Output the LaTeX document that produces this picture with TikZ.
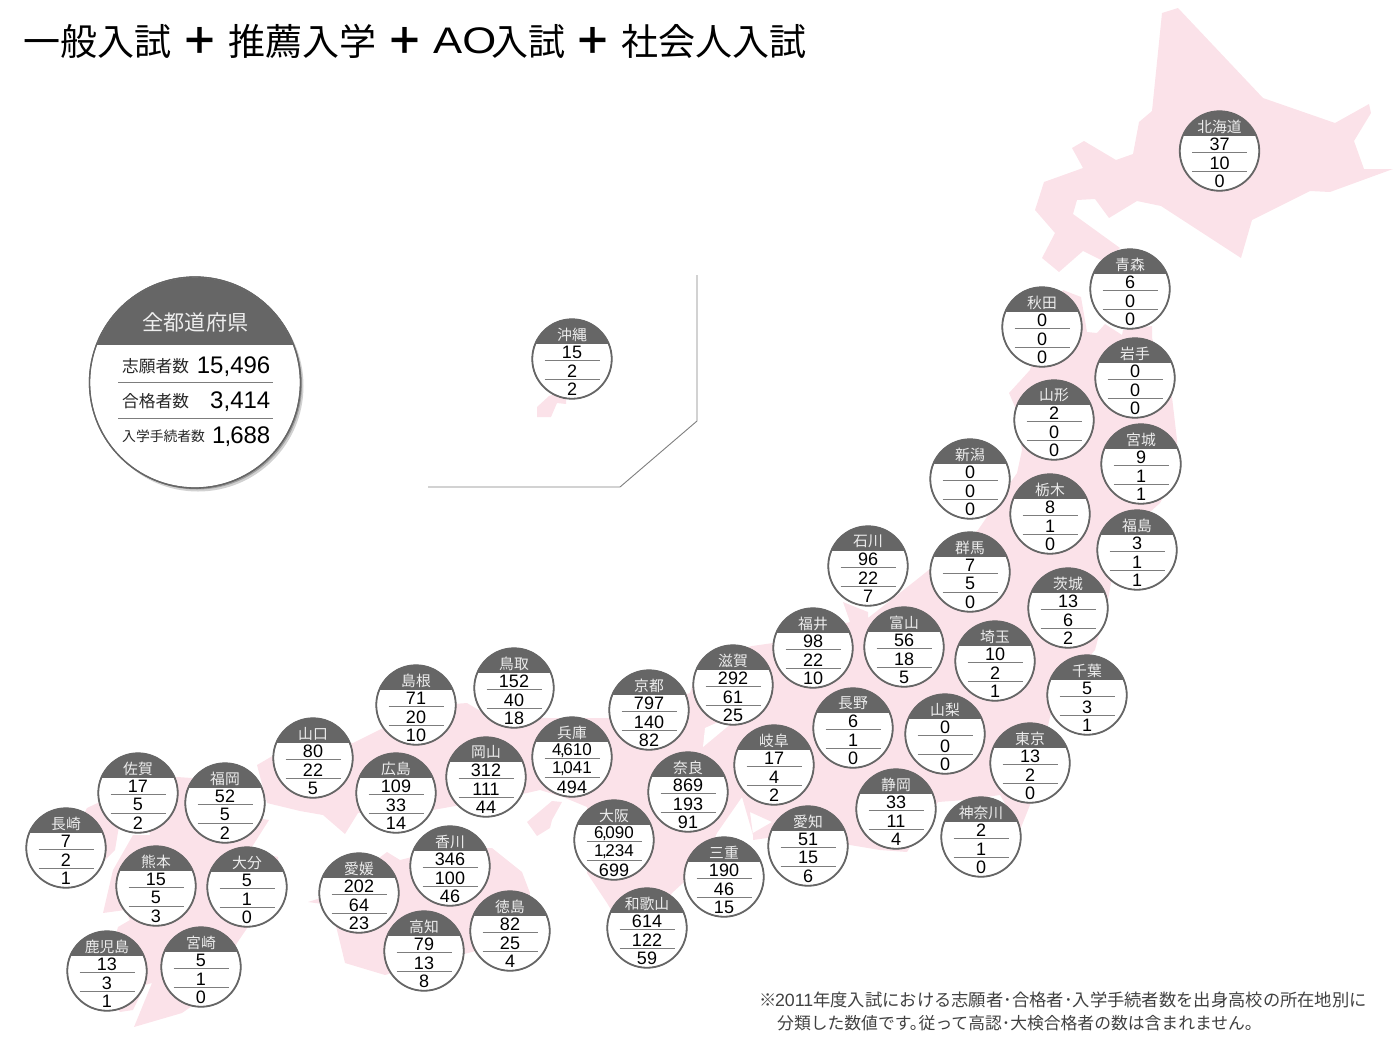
\documentclass[tikz,border=0pt]{standalone}
\usepackage{fontspec}
\setmainfont{Liberation Sans}
\newfontfamily\jp{Noto Sans CJK JP}
\definecolor{mapink}{HTML}{FBE2E9}
\definecolor{band}{HTML}{666666}
\newcommand{\smnum}[2]{{\fontsize{17}{17}\selectfont #1\kern-1.5pt,\kern-1.5pt #2}}
\tikzset{
  x=1pt,y=-1pt,
  land/.style={fill=mapink,draw=none},
  disc/.style={draw=band,line width=1.3pt,fill=white,circle,minimum size=79pt,inner sep=0pt},
  rowrule/.style={draw=band!85,line width=0.8pt},
  plabel/.style={font=\jp\fontsize{14.8}{14.8}\selectfont,text=white!93!black,inner sep=0pt},
  pnum/.style={font=\fontsize{18}{18}\selectfont,text=black,inner sep=0pt},
  ttl/.style={anchor=west,inner sep=0pt,font=\jp\fontsize{37}{37}\selectfont},
  ttlplus/.style={inner sep=0pt,font=\jp\bfseries\fontsize{37}{37}\selectfont},
  keytext/.style={anchor=west,text=black!85,inner sep=0pt},
  valtext/.style={anchor=east,font=\fontsize{24}{24}\selectfont,inner sep=0pt},
  notetext/.style={anchor=west,inner sep=0pt,text=black!75},
}
% \pref{id}{cx}{cy}{label}{a}{b}{c}
\newcommand{\pref}[7]{%
  \node[disc] (#1) at (#2,#3) {};
  \begin{scope}
    \clip (#2,#3) circle[radius=39.5pt];
    \fill[band] (#2-41,#3-41) rectangle (#2+41,#3-15.5);
  \end{scope}
  \draw[draw=band,line width=1.3pt] (#2,#3) circle[radius=40pt];
  \node[plabel] (#1l) at (#2,#3-24.5) {#4};
  \node[pnum] (#1a) at (#2,#3-6.8) {#5};
  \draw[rowrule] (#2-27.5,#3+1.5) -- (#2+27.5,#3+1.5);
  \node[pnum] (#1b) at (#2,#3+11.8) {#6};
  \draw[rowrule] (#2-27.5,#3+20) -- (#2+27.5,#3+20);
  \node[pnum] (#1c) at (#2,#3+30.2) {#7};
}
\begin{document}
\begin{tikzpicture}
\useasboundingbox (0,0) rectangle (1394,1037);
% title
\node[ttl] (t1) at (23,41) {一般入試};
\node[ttlplus] (p1) at (200,41) {＋};
\node[ttl] (t2) at (228,41) {推薦入学};
\node[ttlplus] (p2) at (405,41) {＋};
\node[ttl,font=\fontsize{37}{37}\selectfont] (t3) at (433,41) {\scalebox{1.18}[1]{AO}};
\node[ttl] (t4) at (491,41) {入試};
\node[ttlplus] (p3) at (593,41) {＋};
\node[ttl] (t5) at (621,41) {社会人入試};
% map: Hokkaido
\fill[land] (1162,13)--(1178,8)--(1263,98)--(1335,123)--(1369,104)--(1371,113)--(1354,141)--(1364,169)--(1393,169)--(1330,192)--(1310,191)--(1252,220)--(1241,258)--(1161,206)--(1137,201)--(1109,218)--(1095,199)--(1077,200)--(1073,214)--(1120,248)--(1105,262)--(1083,251)--(1059,272)--(1042,258)--(1055,233)--(1035,210)--(1044,182)--(1083,168)--(1072,148)--(1084,141)--(1116,160)--(1133,154)--(1139,122)--(1152,111)--cycle;
% map: Honshu
\fill[land] (1063,290)--(1081,297)--(1087,332)--(1097,333)--(1105,324)--(1122,335)--(1123,330)--(1152,326)--(1152,338)--(1172,397)--(1177,440)--(1178,470)--(1160,503)--(1150,512)--(1115,560)--(1108,600)--(1095,650)--(1060,690)--(1050,717)--(1030,805)--(1020,830)--(1000,795)--(965,800)--(938,802)--(907,852)--(880,850)--(850,845)--(767,838)--(753,840)--(753,833)--(772,822)--(750,812)--(753,835)--(742,797)--(717,833)--(700,870)--(683,883)--(672,893)--(650,930)--(620,925)--(607,903)--(587,873)--(587,807)--(563,797)--(540,790)--(527,793)--(433,810)--(358,813)--(345,834)--(323,815)--(300,811)--(267,803)--(257,765)--(300,740)--(353,743)--(383,728)--(440,705)--(467,703)--(487,715)--(548,718)--(608,718)--(690,693)--(700,660)--(752,646)--(773,643)--(850,622)--(843,602)--(868,612)--(868,618)--(920,577)--(978,530)--(1017,473)--(1022,450)--(1015,407)--(1009,393)--(1030,370)--(1040,330)--cycle;
% Lake Biwa
\fill[white] (705,728)--(723,720)--(733,722)--(703,747)--cycle;
% Shikoku
\fill[land] (308,902)--(330,895)--(387,852)--(400,860)--(440,850)--(492,848)--(522,872)--(530,893)--(520,950)--(480,950)--(440,960)--(385,975)--(345,963)--(337,930)--(330,905)--cycle;
% Awaji
\fill[land] (527,822)--(552,801)--(562,802)--(552,820)--(550,828)--(537,836)--cycle;
% Kyushu
\fill[land] (87,808)--(125,790)--(115,850)--(105,860)--(93,875)--(60,860)--cycle;
\fill[land] (133,835)--(150,835)--(140,790)--(177,777)--(192,778)--(240,790)--(263,819)--(269,820)--(250,850)--(278,857)--(280,880)--(237,943)--(215,990)--(182,1013)--(134,1027)--(152,983)--(145,985)--(133,1010)--(120,1012)--(100,990)--(118,927)--(130,920)--(125,910)--(103,913)--(113,870)--cycle;
% Okinawa
\fill[land] (537,417)--(537,407)--(549,396)--(566,390)--(566,404)--(557,403)--(551,417)--cycle;
% Okinawa frame
\coordinate (fa) at (697,275);\coordinate (fb) at (697,421);\coordinate (fc) at (620,487);\coordinate (fd) at (428,487);
\draw[draw=black!50,line width=0.9pt] (fa)--(fb)--(fc)--(fd);
% prefectures
\pref{hokkaido}{1219.5}{151}{北海道}{37}{10}{0}
\pref{aomori}{1130}{289}{青森}{6}{0}{0}
\pref{akita}{1042}{327}{秋田}{0}{0}{0}
\pref{iwate}{1135}{378}{岩手}{0}{0}{0}
\pref{yamagata}{1054}{420}{山形}{2}{0}{0}
\pref{miyagi}{1141}{464}{宮城}{9}{1}{1}
\pref{niigata}{970}{479}{新潟}{0}{0}{0}
\pref{tochigi}{1050}{514}{栃木}{8}{1}{0}
\pref{fukushima}{1137}{550}{福島}{3}{1}{1}
\pref{ishikawa}{868}{566}{石川}{96}{22}{7}
\pref{gunma}{970}{572}{群馬}{7}{5}{0}
\pref{ibaraki}{1068}{608}{茨城}{13}{6}{2}
\pref{fukui}{813}{648}{福井}{98}{22}{10}
\pref{toyama}{904}{647}{富山}{56}{18}{5}
\pref{saitama}{995}{661}{埼玉}{10}{2}{1}
\pref{chiba}{1087}{695}{千葉}{5}{3}{1}
\pref{shiga}{733}{685}{滋賀}{292}{61}{25}
\pref{nagano}{853}{728}{長野}{6}{1}{0}
\pref{yamanashi}{945}{734}{山梨}{0}{0}{0}
\pref{tokyo}{1030}{763}{東京}{13}{2}{0}
\pref{tottori}{514}{688}{鳥取}{152}{40}{18}
\pref{shimane}{416}{705}{島根}{71}{20}{10}
\pref{kyoto}{649}{710}{京都}{797}{140}{82}
\pref{yamaguchi}{313}{758}{山口}{80}{22}{5}
\pref{hyogo}{572}{757}{兵庫}{\smnum{4}{610}}{\smnum{1}{041}}{494}
\pref{okayama}{486}{777}{岡山}{312}{111}{44}
\pref{gifu}{774}{765}{岐阜}{17}{4}{2}
\pref{nara}{688}{792}{奈良}{869}{193}{91}
\pref{hiroshima}{396}{793}{広島}{109}{33}{14}
\pref{shizuoka}{896}{809}{静岡}{33}{11}{4}
\pref{saga}{138}{793}{佐賀}{17}{5}{2}
\pref{fukuoka}{225}{803}{福岡}{52}{5}{2}
\pref{osaka}{614}{840}{大阪}{\smnum{6}{090}}{\smnum{1}{234}}{699}
\pref{kanagawa}{981}{837}{神奈川}{2}{1}{0}
\pref{aichi}{808}{846}{愛知}{51}{15}{6}
\pref{nagasaki}{66}{848}{長崎}{7}{2}{1}
\pref{kagawa}{450}{866}{香川}{346}{100}{46}
\pref{mie}{724}{877}{三重}{190}{46}{15}
\pref{kumamoto}{156}{886}{熊本}{15}{5}{3}
\pref{oita}{247}{887}{大分}{5}{1}{0}
\pref{ehime}{359}{893}{愛媛}{202}{64}{23}
\pref{tokushima}{510}{931}{徳島}{82}{25}{4}
\pref{wakayama}{647}{928}{和歌山}{614}{122}{59}
\pref{kochi}{424}{951}{高知}{79}{13}{8}
\pref{miyazaki}{201}{967}{宮崎}{5}{1}{0}
\pref{kagoshima}{107}{971}{鹿児島}{13}{3}{1}
\pref{okinawa}{572}{359}{沖縄}{15}{2}{2}
% national total
\fill[black!18] (198,386) circle[radius=105.5];
\fill[black!38] (197,384.5) circle[radius=105];
\node[circle,draw=band,line width=1.3pt,fill=white,minimum size=211pt,inner sep=0pt] (all) at (195,382.5) {};
\begin{scope}
  \clip (195,382.5) circle[radius=105];
  \fill[band] (85,270) rectangle (305,345);
\end{scope}
\draw[draw=band,line width=1.3pt] (195,382.5) circle[radius=105.5];
\node[font=\jp\fontsize{21.2}{21.2}\selectfont,text=white!93!black,inner sep=0pt] (alll) at (195.5,322.5) {全都道府県};
\draw[rowrule] (118,382.5)--(273,382.5);
\draw[rowrule] (118,418.5)--(273,418.5);
\node[keytext,font=\jp\fontsize{16.7}{16.7}\selectfont] (k1) at (122,366) {志願者数};
\node[keytext,font=\jp\fontsize{16.7}{16.7}\selectfont] (k2) at (122,401) {合格者数};
\node[keytext,font=\jp\fontsize{13.8}{14}\selectfont] (k3) at (122,436) {入学手続者数};
\node[valtext] (v1) at (270.5,367) {15,496};
\node[valtext] (v2) at (270.5,402) {3,414};
\node[valtext] (v3) at (270.5,437) {1\kern-1pt,\kern-1pt 688};
% note
\node[notetext,font=\jp\fontsize{17.3}{17.3}\selectfont] (n1) at (759,1000) {※\kern-1.5pt{\fontspec{Liberation Sans}\fontsize{17.8}{17.8}\selectfont 2011}年度入試における志願者･合格者･入学手続者数を出身高校の所在地別に};
\node[notetext,font=\jp\fontsize{16.8}{16.8}\selectfont] (n2) at (777,1023) {分類した数値です。\kern-8pt 従って高認･大検合格者の数は含まれません。};
\end{tikzpicture}
\end{document}
